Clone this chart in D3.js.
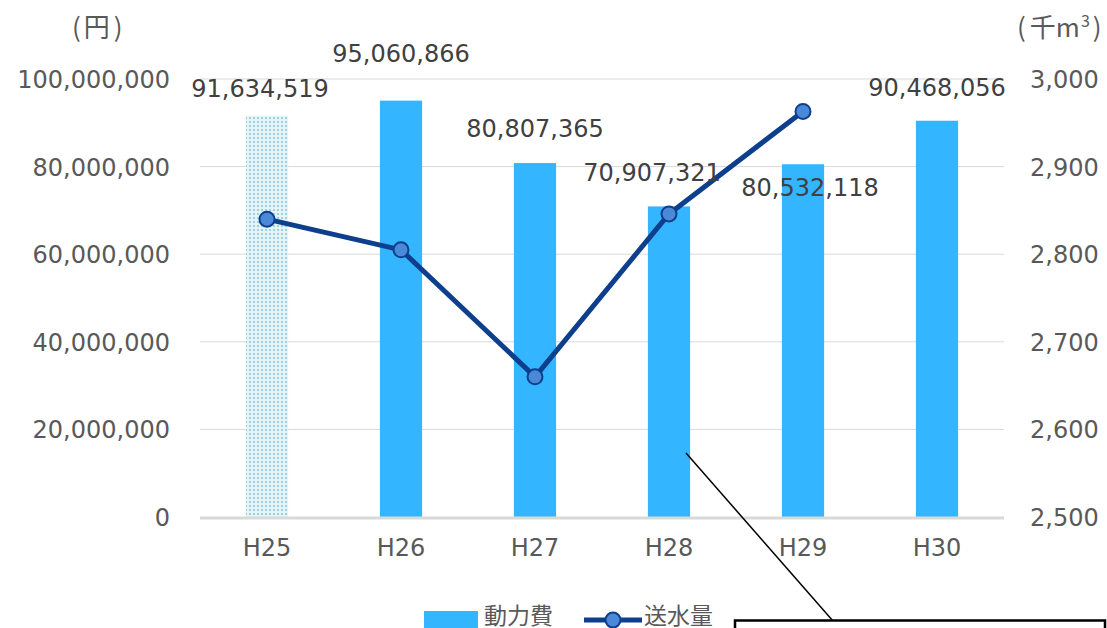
<!DOCTYPE html>
<html lang="ja">
<head>
<meta charset="utf-8">
<script src="https://cdn.jsdelivr.net/npm/d3@7"></script>
<style>
  html, body { margin: 0; padding: 0; background: #fff; }
  svg { display: block; font-family: "DejaVu Sans", "Noto Sans CJK JP", sans-serif; }
</style>
</head>
<body>
<svg id="chart" width="1107" height="628"></svg>
<script>
// 年度
const categories = ["H25", "H26", "H27", "H28", "H29", "H30"];
// 動力費（円）
const powerCost = [91634519, 95060866, 80807365, 70907321, 80532118, 90468056];
// 送水量（千m3）— H30 は未計上
const waterVolume = [2840, 2805, 2660, 2846, 2963, null];
// 軸目盛
const leftTicks = [0, 20000000, 40000000, 60000000, 80000000, 100000000];
const rightTicks = [2500, 2600, 2700, 2800, 2900, 3000];
// データラベルの位置調整 [dx, dy]（棒の上端からのずれ）
const labelOffsets = [[-7, -19], [0, -39], [0, -26], [-17, -25], [7, 32], [0, -25]];

const svg = d3.select("#chart");
const margin = { left: 200, right: 1004, top: 79, bottom: 517 };

const x = d3.scaleBand().domain(categories).range([margin.left, margin.right]).padding(0);
const yL = d3.scaleLinear().domain([0, 100000000]).range([margin.bottom, margin.top]);
const yR = d3.scaleLinear().domain([2500, 3000]).range([margin.bottom, margin.top]);
const barW = x.bandwidth() * 0.315;
const fmt = d3.format(",");

// H25 棒の網点パターン
const defs = svg.append("defs");
const pat = defs.append("pattern").attr("id", "dots")
  .attr("patternUnits", "userSpaceOnUse").attr("width", 4).attr("height", 4);
pat.append("rect").attr("width", 4).attr("height", 4).attr("fill", "#e4f5f8");
pat.append("rect").attr("x", 1).attr("y", 1).attr("width", 2).attr("height", 2).attr("fill", "#9fd0dc");

// グリッド線
svg.append("g").selectAll("line").data(leftTicks.slice(1)).join("line")
  .attr("x1", margin.left).attr("x2", margin.right)
  .attr("y1", d => yL(d)).attr("y2", d => yL(d))
  .attr("stroke", "#d9d9d9").attr("stroke-width", 1);

// 左軸
const axL = svg.append("g").attr("transform", `translate(${margin.left - 30},0)`)
  .call(d3.axisLeft(yL).tickValues(leftTicks).tickFormat(fmt).tickSize(0).tickPadding(0));
axL.select(".domain").remove();
axL.selectAll("text").attr("font-size", 24).attr("fill", "#595959")
  .attr("font-family", "DejaVu Sans").attr("dy", "0.35em");

// 右軸
const axR = svg.append("g").attr("transform", `translate(${margin.right + 26},0)`)
  .call(d3.axisRight(yR).tickValues(rightTicks).tickFormat(fmt).tickSize(0).tickPadding(0));
axR.select(".domain").remove();
axR.selectAll("text").attr("font-size", 24).attr("fill", "#595959")
  .attr("font-family", "DejaVu Sans").attr("dy", "0.35em");

// 棒（動力費）
svg.append("g").selectAll("rect").data(powerCost).join("rect")
  .attr("x", (d, i) => x(categories[i]) + x.bandwidth() / 2 - barW / 2)
  .attr("width", barW)
  .attr("y", d => yL(d))
  .attr("height", d => yL(0) - yL(d))
  .attr("fill", (d, i) => i === 0 ? "url(#dots)" : "#33b5ff");

// 横軸の基線
svg.append("line").attr("x1", margin.left).attr("x2", margin.right)
  .attr("y1", yL(0) + 1).attr("y2", yL(0) + 1)
  .attr("stroke", "#d9d9d9").attr("stroke-width", 3);

// 横軸ラベル
const axB = svg.append("g").attr("transform", `translate(0,${yL(0) + 22})`)
  .call(d3.axisBottom(x).tickSize(0).tickPadding(0));
axB.select(".domain").remove();
axB.selectAll("text").attr("font-size", 24).attr("fill", "#595959")
  .attr("font-family", "DejaVu Sans").attr("dy", "0.71em");

// 折れ線（送水量）
const pts = waterVolume.map((v, i) => ({ v, c: categories[i] })).filter(d => d.v !== null);
const line = d3.line().x(d => x(d.c) + x.bandwidth() / 2).y(d => yR(d.v));
svg.append("path").datum(pts).attr("d", line)
  .attr("fill", "none").attr("stroke", "#0d3f8c").attr("stroke-width", 5)
  .attr("stroke-linejoin", "round");
svg.append("g").selectAll("circle").data(pts).join("circle")
  .attr("cx", d => x(d.c) + x.bandwidth() / 2).attr("cy", d => yR(d.v))
  .attr("r", 7.5).attr("fill", "#4a88d8").attr("stroke", "#0d3f8c").attr("stroke-width", 2);

// データラベル
svg.append("g").selectAll("text").data(powerCost).join("text")
  .attr("x", (d, i) => x(categories[i]) + x.bandwidth() / 2 + labelOffsets[i][0])
  .attr("y", (d, i) => yL(d) + labelOffsets[i][1])
  .attr("text-anchor", "middle").attr("font-size", 24).attr("fill", "#404040")
  .text(d => fmt(d));

// 単位
const unitL = svg.append("text").attr("x", 72).attr("y", 37)
  .attr("font-size", 26).attr("fill", "#595959").attr("font-family", "Noto Sans CJK JP");
unitL.append("tspan").text("(");
unitL.append("tspan").attr("dx", 3).text("円");
unitL.append("tspan").attr("dx", 4).text(")");
const unitR = svg.append("text").attr("x", 1017).attr("y", 37)
  .attr("font-size", 26).attr("fill", "#595959").attr("font-family", "Noto Sans CJK JP");
unitR.append("tspan").text("(");
unitR.append("tspan").attr("dx", 4).text("千m");
unitR.append("tspan").attr("font-size", 16).attr("dx", 1).attr("dy", -10).text("3");
unitR.append("tspan").attr("dx", 3).attr("dy", 10).text(")");

// 凡例
const lg = svg.append("g");
lg.append("rect").attr("x", 424).attr("y", 611).attr("width", 54).attr("height", 18).attr("fill", "#33b5ff");
lg.append("text").attr("x", 484).attr("y", 624).attr("font-size", 23).attr("fill", "#595959")
  .attr("font-family", "Noto Sans CJK JP").text("動力費");
lg.append("line").attr("x1", 584).attr("x2", 642).attr("y1", 620).attr("y2", 620)
  .attr("stroke", "#0d3f8c").attr("stroke-width", 5);
lg.append("circle").attr("cx", 613).attr("cy", 620).attr("r", 7.5)
  .attr("fill", "#4a88d8").attr("stroke", "#0d3f8c").attr("stroke-width", 2);
lg.append("text").attr("x", 644).attr("y", 624).attr("font-size", 23).attr("fill", "#595959")
  .attr("font-family", "Noto Sans CJK JP").text("送水量");

// 吹き出し
svg.append("line").attr("x1", 686).attr("y1", 453).attr("x2", 833).attr("y2", 621)
  .attr("stroke", "#000").attr("stroke-width", 1.5);
svg.append("rect").attr("x", 735).attr("y", 620.5).attr("width", 370).attr("height", 60)
  .attr("fill", "#fff").attr("stroke", "#000").attr("stroke-width", 2.5);
</script>
</body>
</html>
